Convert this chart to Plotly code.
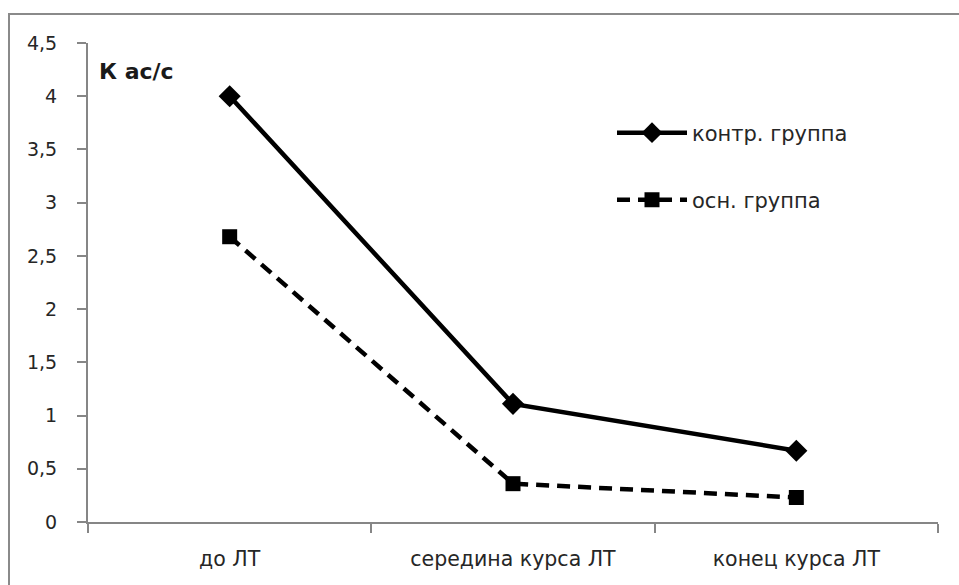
import plotly.graph_objects as go

categories = ["до ЛТ", "середина курса ЛТ", "конец курса ЛТ"]
control_group = [4.0, 1.11, 0.67]
main_group = [2.68, 0.36, 0.23]
series_names = ["контр. группа", "осн. группа"]
y_tick_vals = [0, 0.5, 1, 1.5, 2, 2.5, 3, 3.5, 4, 4.5]
y_tick_text = ["0", "0,5", "1", "1,5", "2", "2,5", "3", "3,5", "4", "4,5"]
y_title = "К ас/с"

FONT = "DejaVu Sans"
TXT = "#262626"
AX = "#868686"

fig = go.Figure()
fig.add_trace(go.Scatter(
    x=[0, 1, 2], y=control_group, name=series_names[0], mode="lines+markers",
    line=dict(color="black", width=4.5),
    marker=dict(symbol="diamond", size=17, color="black"),
    legend="legend",
))
fig.add_trace(go.Scatter(
    x=[0, 1, 2], y=main_group, name=series_names[1], mode="lines+markers",
    line=dict(color="black", width=4.5, dash="13px,8px"),
    marker=dict(symbol="square", size=15, color="black"),
    legend="legend2",
))

W, H = 959, 585
L, R, T, B = 88, 21, 43, 63
pw, ph = W - L - R, H - T - B

def px_x(x):
    return (x - L) / pw

def px_y(y):
    return (H - B - y) / ph

fig.update_layout(
    width=W, height=H,
    margin=dict(l=L, r=R, t=T, b=B),
    paper_bgcolor="white", plot_bgcolor="white",
    font=dict(family=FONT, size=19, color=TXT),
    xaxis=dict(
        range=[-0.5, 2.5], tickmode="array", tickvals=[0, 1, 2], ticktext=categories,
        showgrid=False, zeroline=False, showline=True, linecolor=AX, linewidth=2,
        ticks="", ticklabelstandoff=17, fixedrange=True, tickfont=dict(size=20.5),
        minor=dict(tickmode="array", tickvals=[-0.5, 0.5, 1.5, 2.5], ticks="outside",
                   ticklen=9, tickcolor=AX, tickwidth=2),
    ),
    yaxis=dict(
        range=[0, 4.5], tickmode="array", tickvals=y_tick_vals, ticktext=y_tick_text,
        showgrid=False, zeroline=False, showline=True, linecolor=AX, linewidth=2,
        ticks="outside", ticklen=9, tickcolor=AX, tickwidth=2, ticklabelstandoff=16,
        fixedrange=True, tickfont=dict(size=19),
    ),
    legend=dict(x=px_x(612), y=px_y(133), xanchor="left", yanchor="middle",
                bgcolor="rgba(0,0,0,0)", itemwidth=70, font=dict(size=21)),
    legend2=dict(x=px_x(612), y=px_y(200), xanchor="left", yanchor="middle",
                 bgcolor="rgba(0,0,0,0)", itemwidth=70, font=dict(size=21)),
    showlegend=True,
    annotations=[dict(
        text="<b>" + y_title + "</b>", xref="paper", yref="paper",
        x=px_x(97), y=px_y(72), xanchor="left", yanchor="middle",
        showarrow=False, font=dict(size=22, color="#1a1a1a", family=FONT),
    )],
    shapes=[dict(
        type="path", xref="paper", yref="paper",
        path=f"M {px_x(9)} {px_y(590)} L {px_x(9)} {px_y(14)} L {px_x(965)} {px_y(14)}",
        line=dict(color="#8a8a8a", width=2),
    )],
)

fig.write_html("out.html")
